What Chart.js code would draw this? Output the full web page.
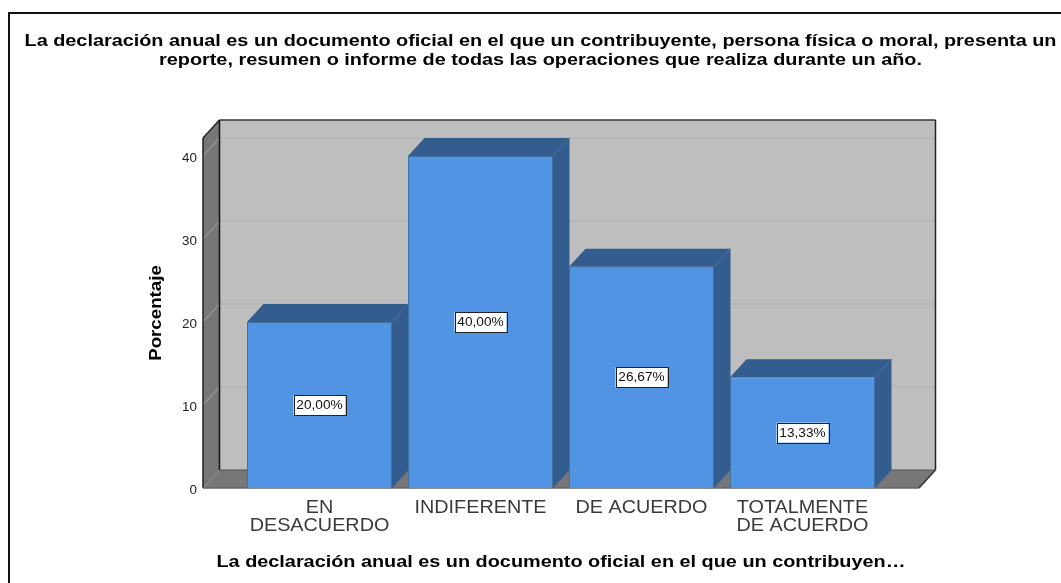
<!DOCTYPE html>
<html><head><meta charset="utf-8">
<style>html,body{margin:0;padding:0;background:#fff}#w{position:relative;width:1061px;height:583px}</style>
<script src="https://cdn.jsdelivr.net/npm/chart.js@4/dist/chart.umd.min.js"></script>
</head><body><div id="w"><canvas id="c" width="1061" height="583"></canvas></div>
<script>
const categories=[['EN','DESACUERDO'],'INDIFERENTE','DE ACUERDO',['TOTALMENTE','DE ACUERDO']];
const values=[20,40,26.67,13.33];
const valueLabels=['20,00%','40,00%','26,67%','13,33%'];
const titleLines=['La declaración anual es un documento oficial en el que un contribuyente, persona física o moral, presenta un','reporte, resumen o informe de todas las operaciones que realiza durante un año.'];
const xTitle='La declaración anual es un documento oficial en el que un contribuyen…';
const yTitle='Porcentaje';
const yMax=42.17, yStep=10;
const FONT='"Liberation Sans", Arial, sans-serif';
const DX=16.5, DY=18, SIDE=36;
const canvas=document.getElementById('c');
const c2d=canvas.getContext('2d');
// The reference's text is horizontally stretched: widen each string about its anchor.
const rawFillText=c2d.fillText;
c2d.fillText=function(text,x,y){
 const f=this.font,size=parseFloat(f.match(/([\d.]+)px/)[1]);
 const bold=/bold|700/.test(f);
 const sx=bold?(size>=17?1.1:1.24):size>=18?1.1:size<=12?1.12:1.05;
 this.save();this.translate(x,y);this.scale(sx,1);rawFillText.call(this,text,0,0);this.restore();
};
function poly(ctx,pts,fill){ctx.beginPath();pts.forEach((p,i)=>i?ctx.lineTo(p[0],p[1]):ctx.moveTo(p[0],p[1]));ctx.closePath();
 ctx.fillStyle=fill;ctx.fill();}
function line(ctx,x1,y1,x2,y2,c,w){ctx.beginPath();ctx.moveTo(x1,y1);ctx.lineTo(x2,y2);ctx.strokeStyle=c;ctx.lineWidth=w||1;ctx.stroke();}
const box3d={id:'box3d',
 beforeDatasetsDraw(chart){
  const ctx=chart.ctx,a=chart.chartArea,y=chart.scales.y;
  const L=a.left-SIDE,R=a.right+SIDE,T=a.top,B=a.bottom;
  ctx.save();
  poly(ctx,[[L+DX,T-DY],[R+DX,T-DY],[R+DX,B-DY],[L+DX,B-DY]],'#bebebe');
  poly(ctx,[[L,T],[L+DX,T-DY],[L+DX,B-DY],[L,B]],'#777777');
  poly(ctx,[[L,B],[L+DX,B-DY],[R+DX,B-DY],[R,B]],'#777777');
  y.ticks.forEach(t=>{const p=y.getPixelForValue(t.value);
   if(t.value>0){line(ctx,L+DX,p-DY,R+DX,p-DY,'#b0b0b0');line(ctx,L,p,L+DX,p-DY,'#a8a8a8');}});
  line(ctx,L+DX,T-DY,R+DX,T-DY,'#333',1.5);
  line(ctx,R+DX,T-DY,R+DX,B-DY,'#222',1.5);
  line(ctx,L+DX,T-DY,L+DX,B-DY,'#111',1.5);
  line(ctx,L,T,L,B,'#222',1.5);
  line(ctx,L,T,L+DX,T-DY,'#222',1.5);
  line(ctx,L,B,R,B,'#666',1.5);
  line(ctx,R,B,R+DX,B-DY,'#333',1.5);
  line(ctx,L+DX,B-DY,R+DX,B-DY,'#555',1);
  chart.getDatasetMeta(0).data.forEach(b=>{
   const l=b.x-b.width/2,r=b.x+b.width/2,t=b.y,bt=b.base;
   poly(ctx,[[l,t],[l+DX,t-DY],[r+DX,t-DY],[r,t]],'#335c8f');
   poly(ctx,[[r,t],[r+DX,t-DY],[r+DX,bt-DY],[r,bt]],'#335c8f');
   line(ctx,r,t,r+DX,t-DY,'#4a6f9c');
  });
  ctx.restore();
 },
 afterDatasetsDraw(chart){
  const ctx=chart.ctx;
  ctx.save();
  ctx.font='13px '+FONT;ctx.textAlign='center';ctx.textBaseline='middle';
  chart.getDatasetMeta(0).data.forEach((b,i)=>{
   const cx=b.x,cy=(b.y+b.base)/2,w=52,h=20;
   ctx.fillStyle='#fff';ctx.fillRect(cx-w/2,cy-h/2,w,h);
   ctx.strokeStyle='#222';ctx.lineWidth=1;ctx.strokeRect(Math.round(cx-w/2)+.5,Math.round(cy-h/2)+.5,w,h);
   ctx.fillStyle='#111';ctx.fillText(valueLabels[i],cx,cy+.5);
  });
  ctx.restore();
 },
 afterDraw(chart){
  const ctx=chart.ctx;ctx.save();
  line(ctx,9,13,9,583,'#111',2);line(ctx,8,13,1061,13,'#111',2);
  ctx.restore();
 }};
new Chart(canvas,{
 type:'bar',
 data:{labels:categories,datasets:[{data:values,backgroundColor:'#5294e4',borderColor:'#41719f',borderWidth:1,barPercentage:145/161,categoryPercentage:1}]},
 plugins:[box3d],
 options:{responsive:false,animation:false,
  layout:{padding:{left:20,right:0,top:0,bottom:0}},
  plugins:{legend:{display:false},tooltip:{enabled:false},
   title:{display:true,text:titleLines,color:'#000',font:{family:FONT,weight:'bold',size:16,lineHeight:19/16},padding:{top:32,bottom:68}}},
  scales:{
   x:{grid:{display:false},border:{display:false},
      ticks:{color:'#3a3a3a',font:{family:FONT,size:18,lineHeight:1},padding:3,maxRotation:0,minRotation:0,autoSkip:false},
      title:{display:true,text:xTitle,color:'#000',font:{family:FONT,weight:'bold',size:16},padding:{top:0,bottom:11}},
      afterFit(s){s.height=95;}},
   y:{min:0,max:yMax,grid:{display:false},border:{display:false},
      ticks:{stepSize:yStep,includeBounds:false,color:'#222',font:{family:FONT,size:12},padding:34,labelOffset:2.5,autoSkip:false},
      title:{display:true,text:yTitle,color:'#000',font:{family:FONT,weight:'bold',size:17},padding:{top:126,bottom:0}},
      afterFit(s){s.width=219;}},
   y2:{position:'right',display:true,grid:{display:false},border:{display:false},ticks:{display:false},afterFit(s){s.width=178;}}
  }}
});
</script></body></html>
